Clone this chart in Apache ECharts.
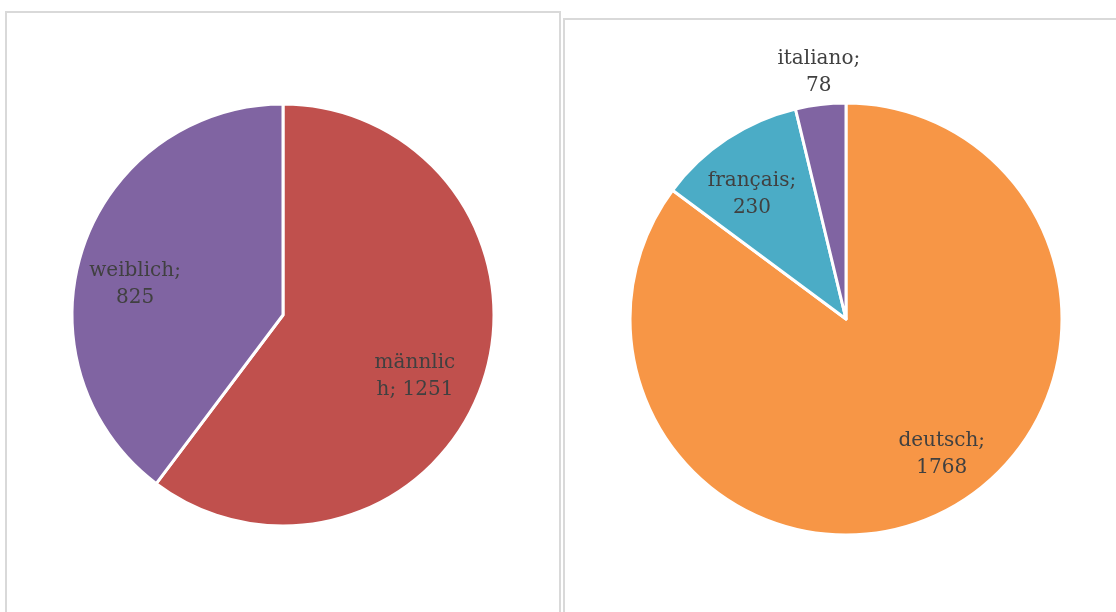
<!DOCTYPE html>
<html>
<head>
<meta charset="utf-8">
<script src="https://cdn.jsdelivr.net/npm/echarts@6/dist/echarts.min.js"></script>
<style>
  html, body { margin: 0; padding: 0; background: #fff; }
  #main { width: 1116px; height: 612px; }
</style>
</head>
<body>
<div id="main"></div>
<script>
// Geschlecht
const genderNames = ['männlich', 'weiblich']
const genderValues = [1251, 825]
const genderColors = ['#C0504D', '#8064A2']
// Sprache
const langNames = ['deutsch', 'français', 'italiano']
const langValues = [1768, 230, 78]
const langColors = ['#F79646', '#4BACC6', '#8064A2']

const labelFont = {
  color: '#404040',
  fontFamily: 'DejaVu Serif',
  fontSize: 20,
  lineHeight: 27
}

// small nudges so the labels sit where Excel put them
const labelNudge = {
  'männlich': { dx: -16, dy: 12 },
  'weiblich': { dx: 0, dy: 19 },
  'deutsch': { dx: 24, dy: -7 },
  'français': { dx: -6, dy: 8 },
  'italiano': { dx: 7, dy: 0, align: 'center' }
}

function pieData(names, values, colors) {
  return names.map((n, i) => ({ name: n, value: values[i], itemStyle: { color: colors[i] } }))
}

// visible pie + transparent ring that only carries the labels (puts them at ~72% radius like Excel)
function makePie(center, r, names, values, colors, labelOverrides) {
  const slices = {
    type: 'pie',
    center: center,
    radius: r,
    startAngle: 90,
    clockwise: true,
    silent: true,
    label: { show: false },
    labelLine: { show: false },
    itemStyle: { borderColor: '#fff', borderWidth: 3 },
    data: pieData(names, values, colors)
  }
  const labels = {
    type: 'pie',
    center: center,
    radius: [r * 0.45, r],
    startAngle: 90,
    clockwise: true,
    silent: true,
    itemStyle: { color: 'rgba(0,0,0,0)', borderWidth: 0 },
    label: Object.assign({ show: true, position: 'inside', formatter: '{b};\n{c}', align: 'center' }, labelFont),
    labelLine: { show: false },
    labelLayout(params) {
      return labelNudge[names[params.dataIndex]] || {}
    },
    data: names.map((n, i) => Object.assign({ name: n, value: values[i] }, labelOverrides[n] || {}))
  }
  return [slices, labels]
}

const chart = echarts.init(document.getElementById('main'))
chart.setOption({
  backgroundColor: '#fff',
  animation: false,
  graphic: [
    { type: 'rect', shape: { x: 6, y: 12, width: 554, height: 620 }, style: { fill: 'none', stroke: '#d9d9d9', lineWidth: 2 } },
    { type: 'rect', shape: { x: 564, y: 19, width: 570, height: 620 }, style: { fill: 'none', stroke: '#d9d9d9', lineWidth: 2 } }
  ],
  series: [
    ...makePie([283, 315], 211, genderNames, genderValues, genderColors, {
      'männlich': { label: { formatter: 'männlic\nh; {c}' } }
    }),
    ...makePie([846, 319], 216, langNames, langValues, langColors, {
      'italiano': { label: { position: 'outside' }, labelLine: { show: false, length: 32, length2: 0 } }
    })
  ]
})
</script>
</body>
</html>
